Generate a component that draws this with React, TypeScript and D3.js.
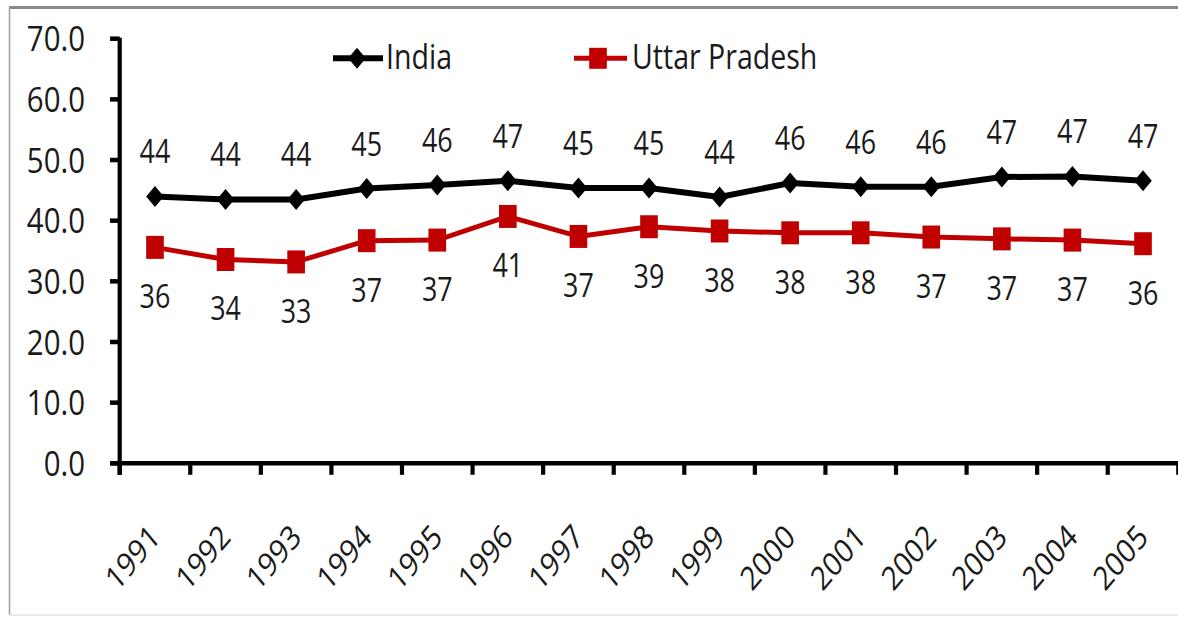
import React from 'react';
import * as d3 from 'd3';

const years = ['1991','1992','1993','1994','1995','1996','1997','1998','1999','2000','2001','2002','2003','2004','2005'];
const india = [44.0, 43.5, 43.5, 45.3, 45.9, 46.6, 45.4, 45.4, 43.9, 46.2, 45.6, 45.6, 47.2, 47.3, 46.6];
const uttarPradesh = [35.6, 33.6, 33.2, 36.7, 36.8, 40.7, 37.4, 39.0, 38.3, 38.0, 38.0, 37.3, 37.0, 36.8, 36.2];
const yTicks = [0, 10, 20, 30, 40, 50, 60, 70];
const seriesNames = ['India', 'Uttar Pradesh'];

const W = 1178;
const H = 618;
const SX = 0.84; // horizontal squeeze of the original picture
const FONT = "'Open Sans', sans-serif";
const TEXT = '#1a1a1a';
const RED = '#c00000';

export default function App() {
  const left = 119.7 / SX;
  const right = 1178.3 / SX;
  const x = d3.scaleBand<string>().domain(years).range([left, right]).padding(0);
  const y = d3.scaleLinear().domain([0, 70]).range([463.3, 38.7]);
  const cx = (yr: string) => (x(yr) as number) + x.bandwidth() / 2;

  const line = d3.line<number>()
    .x((_, i) => cx(years[i]))
    .y((d) => y(d));

  const diamond = (px: number, py: number, r: number) =>
    `M${px},${py - r}L${px + r},${py}L${px},${py + r}L${px - r},${py}Z`;
  const sq = 21;
  const tickLen = 11.5;
  const axisW = 4.5;
  const fmt = d3.format('.1f');

  const bounds = years.map((yr) => x(yr) as number).concat([right]);

  return (
    <svg width={W} height={H} style={{ position: 'absolute', left: 0, top: 0, background: '#fff' }}>
      <rect x={0} y={0} width={W} height={H} fill="#fff" />
      {/* frame */}
      <line x1={9} x2={W} y1={7.5} y2={7.5} stroke="#8a8a8a" strokeWidth={3} />
      <line x1={9.5} x2={9.5} y1={7} y2={615} stroke="#a0a0a0" strokeWidth={1.5} />
      <line x1={9} x2={W} y1={615} y2={615} stroke="#e2e2e2" strokeWidth={1.5} />
      <g transform={`scale(${SX},1)`}>
        {/* y axis */}
        <line x1={left} x2={left} y1={y(70) - 1} y2={y(0) + tickLen} stroke="#000" strokeWidth={axisW + 0.5} />
        {yTicks.map((t) => (
          <g key={t}>
            <line x1={left - tickLen} x2={left} y1={y(t)} y2={y(t)} stroke="#000" strokeWidth={axisW} />
            <text x={85 / SX} y={y(t)} dy="0.36em" textAnchor="end" fontFamily={FONT} fontSize={35} fill={TEXT}>
              {fmt(t)}
            </text>
          </g>
        ))}
        {/* x axis */}
        <line x1={left - tickLen} x2={right + 5} y1={y(0)} y2={y(0)} stroke="#000" strokeWidth={axisW} />
        {bounds.map((b, i) => (
          <line key={i} x1={b} x2={b} y1={y(0)} y2={y(0) + tickLen} stroke="#000" strokeWidth={axisW + 0.5} />
        ))}
        {years.map((yr) => (
          <text key={yr} transform={`translate(${cx(yr) + 8},539) rotate(-45)`} textAnchor="end"
            fontFamily={FONT} fontSize={33} fill={TEXT}>
            {yr}
          </text>
        ))}
        {/* Uttar Pradesh series */}
        <path d={line(uttarPradesh) || ''} fill="none" stroke={RED} strokeWidth={5} strokeLinejoin="round" />
        {uttarPradesh.map((v, i) => (
          <g key={i}>
            <rect x={cx(years[i]) - sq / 2} y={y(v) - sq / 2 - 1} width={sq} height={sq + 2} fill={RED} />
            <text x={cx(years[i])} y={y(v) + 61} textAnchor="middle" fontFamily={FONT} fontSize={32} fill={TEXT}>
              {Math.round(v)}
            </text>
          </g>
        ))}
        {/* India series */}
        <path d={line(india) || ''} fill="none" stroke="#000" strokeWidth={6} strokeLinejoin="round" />
        {india.map((v, i) => (
          <g key={i}>
            <path d={diamond(cx(years[i]), y(v), 10.5)} fill="#000" />
            <text x={cx(years[i])} y={y(v) - 33} textAnchor="middle" fontFamily={FONT} fontSize={32} fill={TEXT}>
              {Math.round(v)}
            </text>
          </g>
        ))}
        {/* legend */}
        <line x1={333 / SX} x2={383 / SX} y1={58.3} y2={58.3} stroke="#000" strokeWidth={6} />
        <path d={diamond(357 / SX, 58.3, 10.5)} fill="#000" />
        <text x={386 / SX} y={69.5} fontFamily={FONT} fontSize={34} fill={TEXT}>{seriesNames[0]}</text>
        <line x1={574 / SX} x2={627 / SX} y1={58.3} y2={58.3} stroke={RED} strokeWidth={5} />
        <rect x={598 / SX - sq / 2} y={58.3 - sq / 2} width={sq} height={sq} fill={RED} />
        <text x={632 / SX} y={69.5} fontFamily={FONT} fontSize={34} fill={TEXT}>{seriesNames[1]}</text>
      </g>
    </svg>
  );
}
